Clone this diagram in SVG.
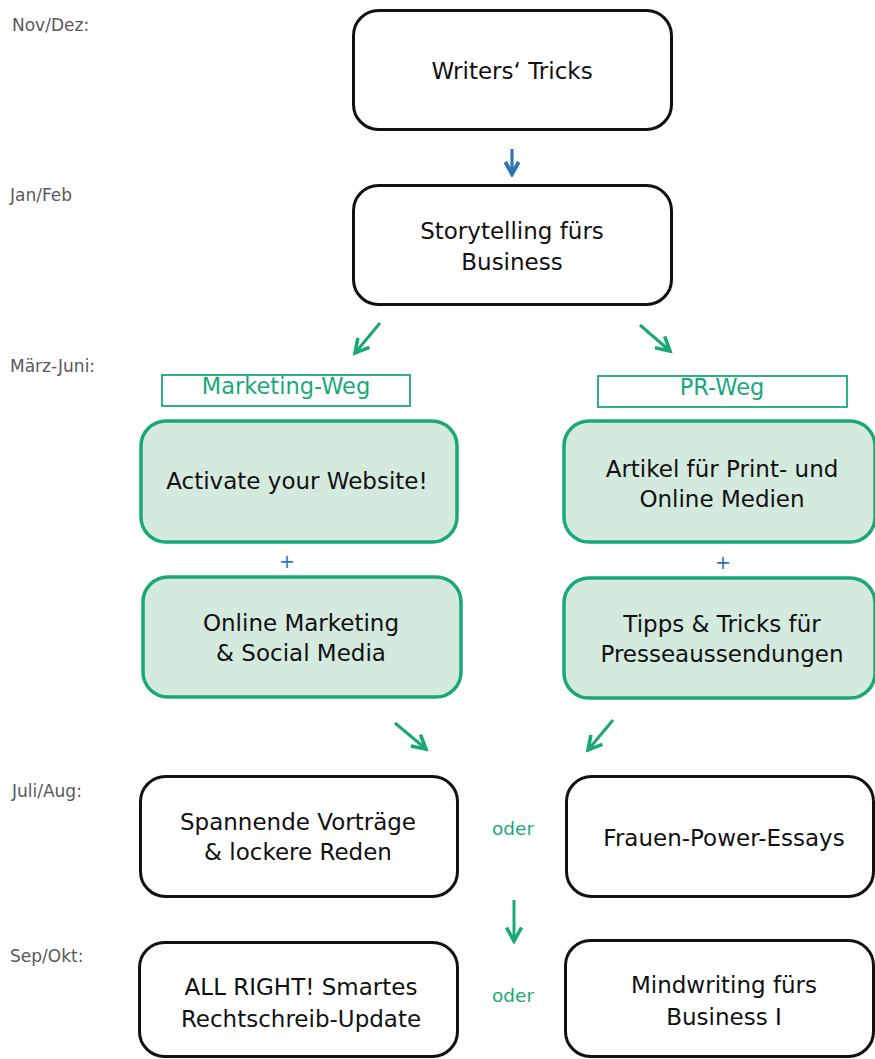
<svg xmlns="http://www.w3.org/2000/svg" width="875" height="1059" viewBox="0 0 875 1059">
<style>
.box{fill:#ffffff;stroke:#111111;stroke-width:3}
.gbox{fill:#d5eadf;stroke:#1aa878;stroke-width:3.5}
.tag{fill:#ffffff;stroke:#1aa878;stroke-width:1.8}
.t{font-family:"DejaVu Sans",Verdana,sans-serif;font-size:23px;fill:#111111;text-anchor:middle}
.gt{font-family:"DejaVu Sans",Verdana,sans-serif;font-size:22.5px;fill:#1aa878;text-anchor:middle}
.lbl{font-family:"DejaVu Sans",Verdana,sans-serif;font-size:17px;fill:#595959}
.oder{font-family:"DejaVu Sans",Verdana,sans-serif;font-size:18.5px;fill:#1aa878;text-anchor:middle}
.plus{font-family:"DejaVu Sans",Verdana,sans-serif;font-size:19px;fill:#2e75b6;text-anchor:middle}
.ga{stroke:#1aa878;stroke-width:3;fill:none;marker-end:url(#mg)}
.ba{stroke:#2e75b6;stroke-width:3.2;fill:none;marker-end:url(#mb)}
</style>
<defs>
<marker id="mg" viewBox="0 0 12 12" refX="10" refY="6" markerWidth="18" markerHeight="18" markerUnits="userSpaceOnUse" orient="auto">
<path d="M1,1 L10,6 L1,11" fill="none" stroke="#1aa878" stroke-width="2.4"/>
</marker>
<marker id="mb" viewBox="0 0 12 12" refX="10" refY="6" markerWidth="16" markerHeight="16" markerUnits="userSpaceOnUse" orient="auto">
<path d="M1,1 L10,6 L1,11" fill="none" stroke="#2e75b6" stroke-width="3"/>
</marker>
</defs>

<g id="labels">
<text class="lbl" x="12" y="31">Nov/Dez:</text>
<text class="lbl" x="10" y="201">Jan/Feb</text>
<text class="lbl" x="10" y="372">März-Juni:</text>
<text class="lbl" x="12" y="797">Juli/Aug:</text>
<text class="lbl" x="10" y="962">Sep/Okt:</text>
</g>

<g id="connectors">
<line class="ba" x1="512" y1="149" x2="512" y2="174"/>
<line class="ga" x1="380" y1="323" x2="355" y2="353"/>
<line class="ga" x1="640" y1="325" x2="670" y2="351"/>
<line class="ga" x1="395" y1="723" x2="426" y2="749"/>
<line class="ga" x1="613" y1="720" x2="588" y2="750"/>
<line class="ga" x1="514" y1="900" x2="514" y2="941"/>
</g>

<g id="n-writers">
<rect class="box" x="353.5" y="10.5" width="318" height="119" rx="25"/>
<text class="t" x="512" y="79">Writers‘ Tricks</text>
</g>
<g id="n-storytelling">
<rect class="box" x="353.5" y="185.5" width="318" height="119" rx="25"/>
<text class="t" x="512" y="239">Storytelling fürs</text>
<text class="t" x="512" y="270">Business</text>
</g>

<g id="tag-marketing">
<rect class="tag" x="162" y="375" width="248" height="31"/>
<text class="gt" x="286" y="394">Marketing-Weg</text>
</g>
<g id="tag-pr">
<rect class="tag" x="598" y="376" width="249" height="31"/>
<text class="gt" x="722" y="395">PR-Weg</text>
</g>

<g id="n-activate">
<rect class="gbox" x="141" y="421" width="316" height="121" rx="25"/>
<text class="t" x="297" y="489">Activate your Website!</text>
</g>
<g id="n-artikel">
<rect class="gbox" x="564" y="421" width="311" height="121" rx="25"/>
<text class="t" x="722" y="477">Artikel für Print- und</text>
<text class="t" x="722" y="507">Online Medien</text>
</g>

<g id="plus">
<text class="plus" x="287" y="568">+</text>
<text class="plus" x="723" y="569">+</text>
</g>

<g id="n-online">
<rect class="gbox" x="143" y="577" width="318" height="120" rx="25"/>
<text class="t" x="301" y="631">Online Marketing</text>
<text class="t" x="301" y="661">&amp; Social Media</text>
</g>
<g id="n-tipps">
<rect class="gbox" x="564" y="578" width="311" height="120" rx="25"/>
<text class="t" x="722" y="632">Tipps &amp; Tricks für</text>
<text class="t" x="722" y="662">Presseaussendungen</text>
</g>

<g id="n-vortraege">
<rect class="box" x="140.5" y="776.5" width="317" height="120" rx="25"/>
<text class="t" x="298" y="830">Spannende Vorträge</text>
<text class="t" x="298" y="860">&amp; lockere Reden</text>
</g>
<text class="oder" x="513" y="835">oder</text>
<g id="n-frauen">
<rect class="box" x="566.5" y="776.5" width="307" height="120" rx="25"/>
<text class="t" x="724" y="846">Frauen-Power-Essays</text>
</g>

<g id="n-allright">
<rect class="box" x="139.5" y="942.5" width="318" height="114" rx="25"/>
<text class="t" x="301" y="995">ALL RIGHT! Smartes</text>
<text class="t" x="301" y="1027">Rechtschreib-Update</text>
</g>
<text class="oder" x="513" y="1002">oder</text>
<g id="n-mindwriting">
<rect class="box" x="565.5" y="940.5" width="308" height="116" rx="25"/>
<text class="t" x="724" y="993">Mindwriting fürs</text>
<text class="t" x="724" y="1025">Business I</text>
</g>
</svg>
